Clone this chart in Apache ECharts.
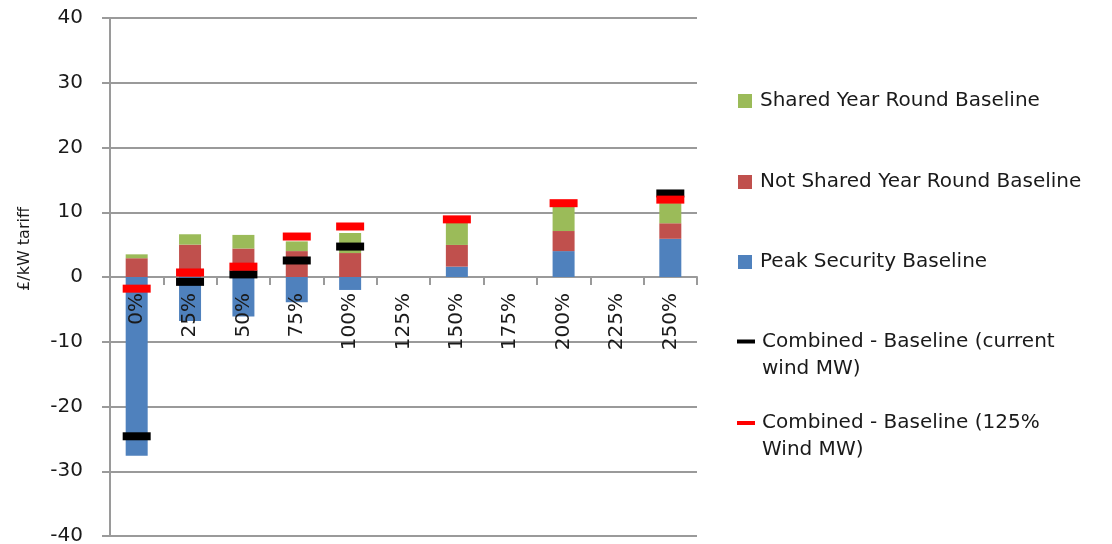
<!DOCTYPE html>
<html>
<head>
<meta charset="utf-8">
<script src="https://cdn.jsdelivr.net/npm/echarts@6/dist/echarts.min.js"></script>
<style>
  html, body { margin: 0; padding: 0; background: #fff; }
  #chart { width: 1112px; height: 544px; }
</style>
</head>
<body>
<div id="chart"></div>
<script>
// Wind scenarios (share of baseline wind MW)
const categories = ['0%', '25%', '50%', '75%', '100%', '125%', '150%', '175%', '200%', '225%', '250%'];

// Tariff components, £/kW
const peakSecurity       = [-27.6, -6.8, -6.1, -3.9, -2.0, null, 1.6,  null, 4.0,  null, 5.9];
const notSharedYearRound = [2.9,   5.0,  4.4,  4.0,  3.7,  null, 3.35, null, 3.1,  null, 2.4];
const sharedYearRound    = [0.6,   1.6,  2.1,  1.5,  3.1,  null, 3.45, null, 3.75, null, 3.1];

// Combined tariff markers, £/kW
const combinedCurrentWind = [-24.6, -0.75, 0.4, 2.55, 4.7, null, null, null, null, null, 12.9];
const combined125Wind     = [-1.8,  0.7,   1.6, 6.25, 7.8, null, 8.9,  null, 11.4, null, 11.95];

// Value axis range
const yMin = -40;
const yMax = 40;
const yStep = 10;

const names = {
  shared: 'Shared Year Round Baseline',
  notShared: 'Not Shared Year Round Baseline',
  peak: 'Peak Security Baseline',
  current: 'Combined - Baseline (current wind MW)',
  wind125: 'Combined - Baseline (125% Wind MW)'
};

const FONT = 'DejaVu Sans';
const TEXT = '#1a1a1a';
const GRID = '#9a9a9a';

const GRID_TOP = 18;
const GRID_BOTTOM = 8;
const PLOT_H = 544 - GRID_TOP - GRID_BOTTOM;
// category axis runs through the zero line of the value axis
const ZERO_OFFSET = -(PLOT_H * (0 - yMin) / (yMax - yMin));

// One legend block per entry so each row sits at its own height.
// Two-line entries get a blank leading line so the icon lines up with the first text line.
function legendItem(name, top, opts) {
  return {
    data: [{ name: name, icon: 'rect' }],
    orient: 'vertical',
    left: opts.left,
    top: top,
    padding: 0,
    itemWidth: opts.w,
    itemHeight: opts.h,
    selectedMode: false,
    formatter: opts.formatter || undefined,
    itemStyle: { opacity: 1 },
    textStyle: {
      fontFamily: FONT,
      fontSize: 20,
      lineHeight: 27,
      color: TEXT,
      padding: [0, 0, 0, opts.pad]
    }
  };
}

const chart = echarts.init(document.getElementById('chart'), null, { renderer: 'canvas' });

chart.setOption({
  animation: false,
  backgroundColor: '#ffffff',
  grid: {
    left: 110, right: 415, top: GRID_TOP, bottom: GRID_BOTTOM,
    containLabel: false,
    outerBoundsMode: 'none'
  },
  legend: [
    legendItem(names.shared, 87.5, { left: 738, w: 14, h: 14, pad: 3 }),
    legendItem(names.notShared, 168.5, { left: 738, w: 14, h: 14, pad: 3 }),
    legendItem(names.peak, 248.5, { left: 738, w: 14, h: 14, pad: 3 }),
    legendItem(names.current, 301, {
      left: 737, w: 18, h: 4, pad: 2,
      formatter: () => '\nCombined - Baseline (current\nwind MW)'
    }),
    legendItem(names.wind125, 382.5, {
      left: 737, w: 18, h: 4, pad: 2,
      formatter: () => '\nCombined - Baseline (125%\nWind MW)'
    })
  ],
  xAxis: [
    {
      // axis line and boundary ticks, behind the bars
      type: 'category',
      data: categories,
      boundaryGap: true,
      offset: ZERO_OFFSET,
      z: 0,
      axisLine: { onZero: false, lineStyle: { color: GRID, width: 2 } },
      axisTick: { show: true, length: 8, lineStyle: { color: GRID, width: 2 } },
      axisLabel: { show: false },
      splitLine: { show: false }
    },
    {
      // category labels, drawn over the bars
      type: 'category',
      data: categories,
      boundaryGap: true,
      position: 'bottom',
      offset: ZERO_OFFSET,
      z: 10,
      axisLine: { show: false, onZero: false },
      axisTick: { show: false },
      axisLabel: {
        rotate: 90,
        margin: 16,
        fontFamily: FONT,
        fontSize: 20,
        color: TEXT,
        interval: 0
      },
      splitLine: { show: false }
    }
  ],
  yAxis: {
    type: 'value',
    min: yMin,
    max: yMax,
    interval: yStep,
    name: '£/kW tariff',
    nameLocation: 'middle',
    nameRotate: 90,
    nameGap: 77,
    nameTextStyle: {
      fontFamily: FONT,
      fontSize: 16,
      color: TEXT,
      padding: [0, 0, 0, 56]
    },
    axisLine: { show: true, lineStyle: { color: GRID, width: 2 } },
    axisTick: { show: true, length: 8, lineStyle: { color: GRID, width: 2 } },
    axisLabel: {
      margin: 27,
      fontFamily: FONT,
      fontSize: 20,
      color: TEXT
    },
    splitLine: { show: true, lineStyle: { color: GRID, width: 2 } }
  },
  series: [
    {
      name: names.peak,
      type: 'bar',
      stack: 'tariff',
      barWidth: 22,
      itemStyle: { color: '#4F81BD' },
      data: peakSecurity
    },
    {
      name: names.notShared,
      type: 'bar',
      stack: 'tariff',
      barWidth: 22,
      itemStyle: { color: '#C0504D' },
      data: notSharedYearRound
    },
    {
      name: names.shared,
      type: 'bar',
      stack: 'tariff',
      barWidth: 22,
      itemStyle: { color: '#9BBB59' },
      data: sharedYearRound
    },
    {
      name: names.current,
      type: 'scatter',
      symbol: 'rect',
      symbolSize: [28, 8],
      itemStyle: { color: '#000000', opacity: 1 },
      data: combinedCurrentWind
    },
    {
      name: names.wind125,
      type: 'scatter',
      symbol: 'rect',
      symbolSize: [28, 8],
      itemStyle: { color: '#FF0000', opacity: 1 },
      data: combined125Wind
    }
  ]
});
</script>
</body>
</html>
